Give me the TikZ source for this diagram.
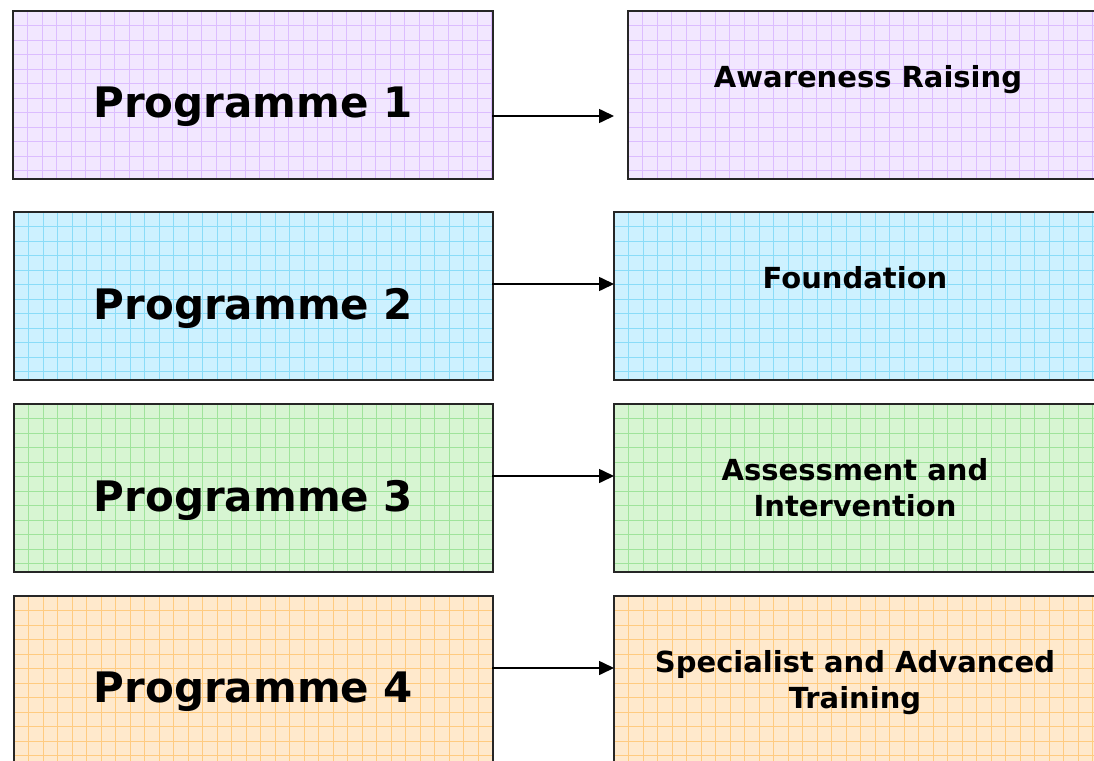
\documentclass[tikz,border=0pt]{standalone}
\usepackage{fontspec}
\newfontfamily\boxfont{DejaVu Sans}
\usetikzlibrary{arrows.meta,positioning}

\definecolor{lilacfill}{HTML}{F2E7FF}
\definecolor{lilacgrid}{HTML}{DCBDFF}
\definecolor{skyfill}{HTML}{CDF1FF}
\definecolor{skygrid}{HTML}{8ADCF8}
\definecolor{mintfill}{HTML}{D7F5D2}
\definecolor{mintgrid}{HTML}{9FE39B}
\definecolor{peachfill}{HTML}{FFE9CC}
\definecolor{peachgrid}{HTML}{FFCB80}

\tikzset{>={Triangle[length=15pt,width=14pt]},
  gridbox/.style={fill=#1, inner sep=0pt, outer sep=0pt, minimum height=168pt},
  boxline/.style={draw=black!85, line width=1.8pt},
  gridline/.style={#1, line width=0.6pt, step=14.5pt},
  progtext/.style={font=\boxfont\bfseries\fontsize{42}{48}\selectfont, inner sep=0pt},
  stagetext/.style={font=\boxfont\bfseries\fontsize{29}{36}\selectfont,
    align=center, inner sep=0pt, anchor=north},
  link/.style={->, line width=1.6pt}}

\begin{document}
\begin{tikzpicture}[x=1pt,y=-1pt,line cap=rect]

    \path[use as bounding box] (0,0) rectangle (1094,760);
    \clip (0,0) rectangle (1094,760);

    % programme boxes
    \node[gridbox=lilacfill, minimum width=480pt] (p1) at (253,95) {};
    \node[gridbox=skyfill, minimum width=479pt] (p2) at (253.5,296) {};
    \node[gridbox=mintfill, minimum width=479pt] (p3) at (253.5,488) {};
    \node[gridbox=peachfill, minimum width=479pt] (p4) at (253.5,680) {};

    % stage boxes
    \node[gridbox=lilacfill, minimum width=472pt] (s1) at (864,95) {};
    \node[gridbox=skyfill, minimum width=486pt] (s2) at (857,296) {};
    \node[gridbox=mintfill, minimum width=486pt] (s3) at (857,488) {};
    \node[gridbox=peachfill, minimum width=486pt] (s4) at (857,680) {};

    % squared paper and frames
    \foreach \b/\c in {p1/lilacgrid,p2/skygrid,p3/mintgrid,p4/peachgrid,
                       s1/lilacgrid,s2/skygrid,s3/mintgrid,s4/peachgrid}{
      \begin{scope}
        \clip (\b.south west) rectangle (\b.north east);
        \draw[gridline=\c, shift={(\b.north west)}] (0,0) grid (520pt,-200pt);
      \end{scope}
      \draw[boxline] (\b.south west) rectangle (\b.north east);
    }

    % labels
    \node[progtext] (pt1) at ([yshift=-12pt]p1.center) {Programme 1};
    \node[progtext] (pt2) at ([yshift=-12pt]p2.center) {Programme 2};
    \node[progtext] (pt3) at ([yshift=-12pt]p3.center) {Programme 3};
    \node[progtext] (pt4) at ([yshift=-12pt]p4.center) {Programme 4};

    \node[stagetext] (st1) at ([xshift=4pt,yshift=-54pt]s1.north) {Awareness Raising};
    \node[stagetext] (st2) at ([xshift=-2pt,yshift=-54pt]s2.north) {Foundation};
    \node[stagetext] (st3) at ([xshift=-2pt,yshift=-54pt]s3.north) {Assessment and\\Intervention};
    \node[stagetext] (st4) at ([xshift=-2pt,yshift=-54pt]s4.north) {Specialist and Advanced\\Training};

    % arrows
    \draw[link] ([yshift=-21pt]p1.east) -- ([yshift=-21pt]p1.east -| s2.west);
    \draw[link] ([yshift=12pt]p2.east) -- ([yshift=12pt]p2.east -| s2.west);
    \draw[link] ([yshift=12pt]p3.east) -- ([yshift=12pt]p3.east -| s3.west);
    \draw[link] ([yshift=12pt]p4.east) -- ([yshift=12pt]p4.east -| s4.west);

\end{tikzpicture}
\end{document}
